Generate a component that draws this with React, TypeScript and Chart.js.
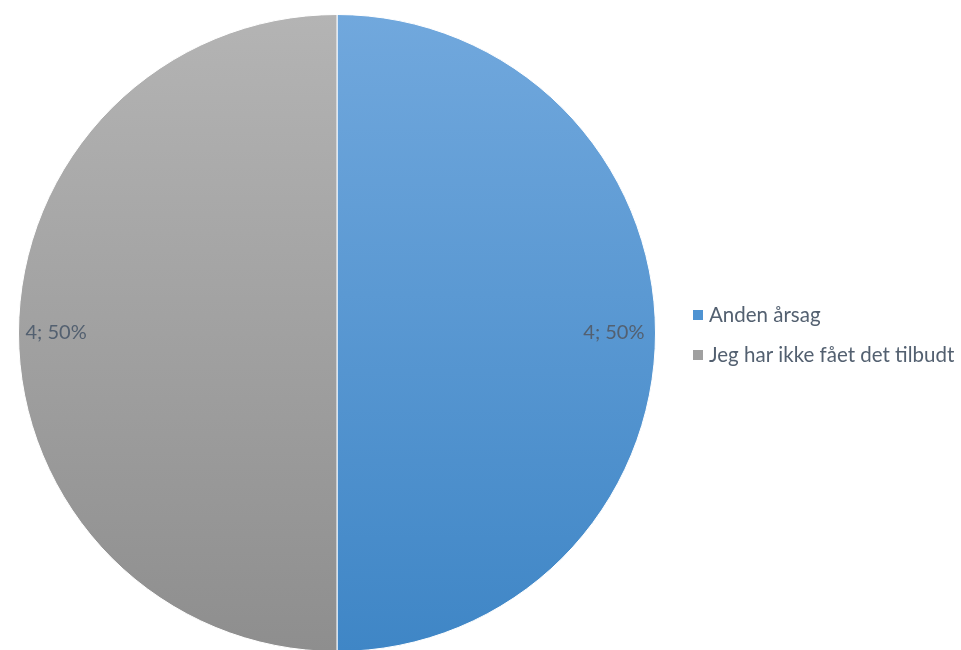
import React, { useEffect, useRef } from "react";
import { Chart, registerables } from "chart.js";

Chart.register(...registerables);

const categories = ["Anden årsag", "Jeg har ikke fået det tilbudt"];
const values = [4, 4];
const percentLabels = ["50%", "50%"];

const gradTop = ["#71a8dd", "#b4b4b4"];
const gradBottom = ["#3f86c6", "#8e8e8e"];
const legendSwatch = ["#4f93d2", "#a0a0a0"];
const textColor = "#536070";
const fontFamily = "Lato, 'Open Sans', sans-serif";

export default function App() {
  const ref = useRef<HTMLCanvasElement | null>(null);

  useEffect(() => {
    document.body.style.margin = "0";
    const canvas = ref.current!;
    const labelPlugin = {
      id: "sliceLabels",
      afterDatasetsDraw(chart: any) {
        const ctx = chart.ctx;
        const meta = chart.getDatasetMeta(0);
        ctx.save();
        ctx.font = `20px ${fontFamily}`;
        ctx.fillStyle = textColor;
        ctx.textBaseline = "middle";
        meta.data.forEach((arc: any, i: number) => {
          const p = arc.getProps(["x", "y", "startAngle", "endAngle", "outerRadius"], true);
          const mid = (p.startAngle + p.endAngle) / 2;
          const c = Math.cos(mid);
          const s = Math.sin(mid);
          const r = p.outerRadius - (c > 0 ? 11 : 7);
          const x = p.x + c * r;
          const y = p.y + s * r;
          ctx.textAlign = c > 0 ? "right" : "left";
          ctx.fillText(`${values[i]}; ${percentLabels[i]}`, x, y);
        });
        ctx.restore();
      },
    };
    const legendPlugin = {
      id: "customLegend",
      afterDraw(chart: any) {
        const ctx = chart.ctx;
        ctx.save();
        ctx.font = `20.5px ${fontFamily}`;
        ctx.textBaseline = "middle";
        ctx.textAlign = "left";
        categories.forEach((label, i) => {
          const y = 315 + i * 40;
          ctx.fillStyle = legendSwatch[i];
          ctx.fillRect(693, y - 5, 10, 10);
          ctx.fillStyle = textColor;
          ctx.fillText(label, 709, y);
        });
        ctx.restore();
      },
    };
    const chart = new Chart(canvas, {
      type: "pie",
      data: {
        labels: categories,
        datasets: [
          {
            data: values,
            borderColor: "#ffffff",
            borderWidth: 1,
            backgroundColor: (c: any) => {
              const area = c.chart.chartArea;
              const i = c.dataIndex ?? 0;
              if (!area) return gradBottom[i];
              const g = c.chart.ctx.createLinearGradient(0, area.top, 0, area.bottom);
              g.addColorStop(0, gradTop[i]);
              g.addColorStop(1, gradBottom[i]);
              return g;
            },
          },
        ],
      },
      options: {
        responsive: false,
        animation: false,
        layout: { padding: { left: 18, top: 14, right: 305, bottom: 18 } },
        plugins: {
          legend: { display: false },
          tooltip: { enabled: false },
        },
      },
      plugins: [labelPlugin, legendPlugin],
    });
    return () => chart.destroy();
  }, []);

  return (
    <div style={{ width: 961, height: 650, overflow: "hidden", background: "#fff" }}>
      <canvas ref={ref} width={961} height={670} style={{ display: "block" }} />
    </div>
  );
}
